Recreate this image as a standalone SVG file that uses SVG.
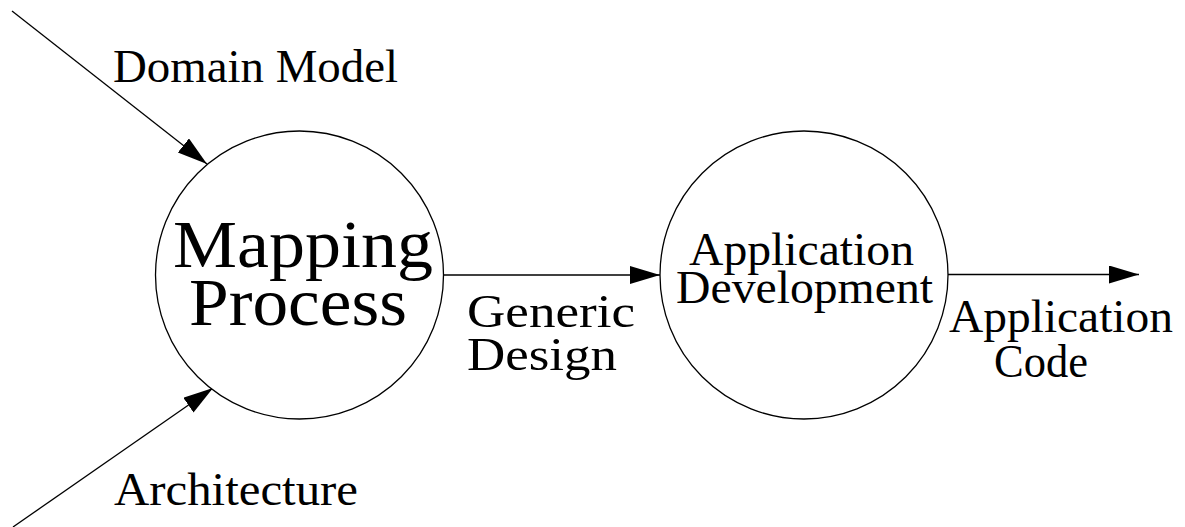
<svg xmlns="http://www.w3.org/2000/svg" width="1185" height="527" viewBox="0 0 1185 527">
<style>
.lbl{font-family:"Liberation Serif","Times New Roman",serif;fill:#000;}
.s{font-size:46px;}
.b{font-size:68px;}
.node{fill:#fff;stroke:#000;stroke-width:1.3;}
.edge{fill:none;stroke:#000;stroke-width:1.3;}
</style>
<defs>
<marker id="ah" markerUnits="userSpaceOnUse" markerWidth="31" markerHeight="19" refX="30" refY="9" orient="auto" viewBox="0 0 31 19">
<path d="M0,0 L30,9 L0,18 z" fill="#000"/>
</marker>
</defs>
<rect width="1185" height="527" fill="#fff"/>
<g id="connectors">
<line class="edge" x1="12" y1="11" x2="207" y2="164" marker-end="url(#ah)"/>
<line class="edge" x1="13" y1="527" x2="213" y2="388" marker-end="url(#ah)"/>
<line class="edge" x1="444" y1="275" x2="660" y2="275" marker-end="url(#ah)"/>
<line class="edge" x1="948" y1="274.5" x2="1139" y2="274.5" marker-end="url(#ah)"/>
</g>
<g id="mapping-process">
<circle class="node" cx="299.5" cy="275" r="144"/>
<text class="lbl b" x="173" y="267" textLength="260" lengthAdjust="spacingAndGlyphs">Mapping</text>
<text class="lbl b" x="189" y="325" textLength="218" lengthAdjust="spacingAndGlyphs">Process</text>
</g>
<g id="application-development">
<circle class="node" cx="804" cy="275" r="144"/>
<text class="lbl s" x="689" y="265" textLength="225" lengthAdjust="spacingAndGlyphs">Application</text>
<text class="lbl s" x="676" y="303" textLength="257" lengthAdjust="spacingAndGlyphs">Development</text>
</g>
<g id="labels">
<text class="lbl s" x="113" y="82" textLength="285" lengthAdjust="spacingAndGlyphs">Domain Model</text>
<text class="lbl s" x="114" y="505" textLength="244" lengthAdjust="spacingAndGlyphs">Architecture</text>
<text class="lbl s" x="467" y="327" textLength="168" lengthAdjust="spacingAndGlyphs">Generic</text>
<text class="lbl s" x="467" y="370" textLength="150" lengthAdjust="spacingAndGlyphs">Design</text>
<text class="lbl s" x="949" y="332" textLength="224" lengthAdjust="spacingAndGlyphs">Application</text>
<text class="lbl s" x="994" y="377" textLength="94" lengthAdjust="spacingAndGlyphs">Code</text>
</g>
</svg>
